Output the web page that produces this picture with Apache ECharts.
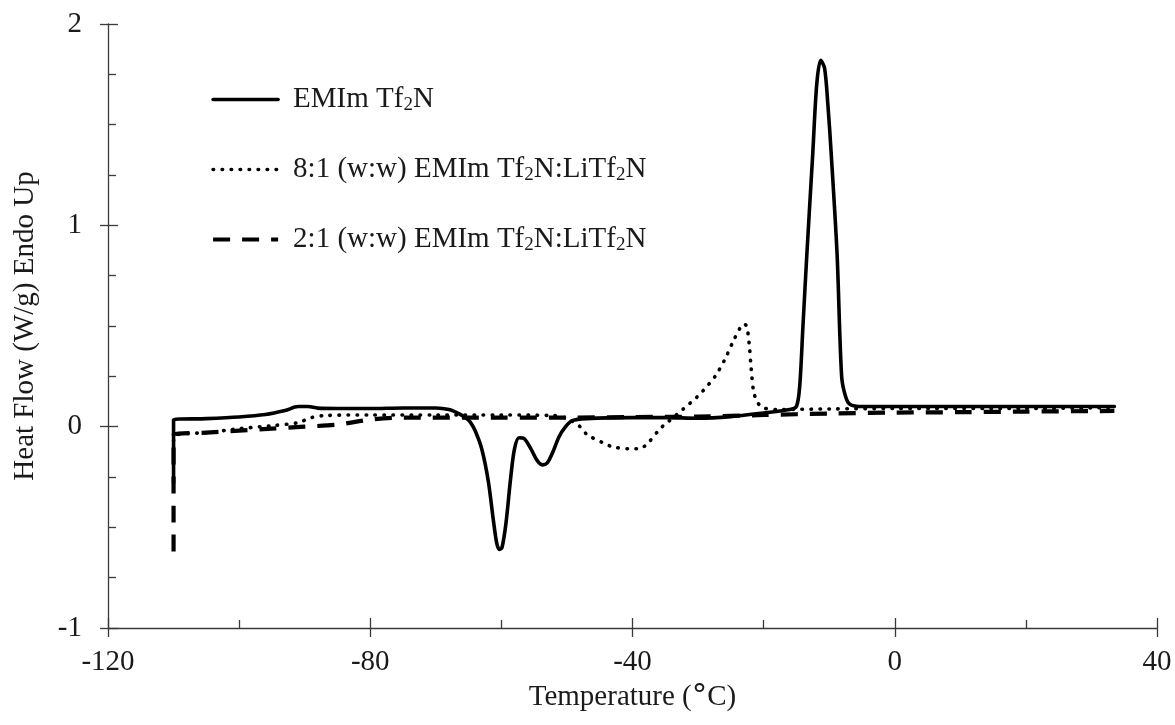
<!DOCTYPE html>
<html>
<head>
<meta charset="utf-8">
<script src="https://cdn.jsdelivr.net/npm/echarts@6/dist/echarts.min.js"></script>
<style>html,body{margin:0;padding:0;background:#fff}#c{width:1175px;height:725px}</style>
</head>
<body>
<div id="c"></div>
<script>
// ---- data ----
const seriesNames = ['EMIm Tf2N', '8:1 (w:w) EMIm Tf2N:LiTf2N', '2:1 (w:w) EMIm Tf2N:LiTf2N'];

const pureT = [-110,-110,-105,-100,-96,-93,-91,-89.5,-88,-85,-80,-75,-70,-68,-66.5,-65.5,-64.8,-64,-63,-62,-61.2,-60.7,-60.3,-59.9,-59.3,-58.6,-58,-57.3,-56.5,-55.5,-54.5,-53.7,-53,-52.2,-51.2,-50.2,-49.2,-47,-40,-35,-30,-25,-20,-16,-15,-14.5,-14,-13.4,-12.5,-11.9,-11.3,-10.7,-10.2,-9.7,-8.8,-8.1,-7.5,-6.8,-5,0,10,20,33.5];
const pureY = [-0.28,0.035,0.04,0.048,0.06,0.08,0.1,0.1,0.092,0.09,0.09,0.093,0.093,0.085,0.065,0.045,0.025,-0.02,-0.11,-0.27,-0.47,-0.58,-0.61,-0.6,-0.48,-0.26,-0.11,-0.055,-0.06,-0.11,-0.17,-0.19,-0.18,-0.13,-0.05,0.0,0.03,0.04,0.045,0.045,0.042,0.05,0.068,0.085,0.1,0.2,0.5,0.86,1.36,1.7,1.82,1.78,1.6,1.36,0.86,0.25,0.15,0.11,0.1,0.1,0.1,0.1,0.1];

const mix81T = [-110,-109.5,-105,-100,-95,-91,-89,-87,-80,-70,-60,-52,-50,-48,-46.9,-44.5,-43,-40.5,-39,-37.6,-35.8,-34.7,-32.3,-30.2,-29.2,-27.4,-25.9,-24.7,-23.6,-23.1,-22.6,-22.2,-21.9,-21.5,-20.9,-20.2,-18,-10,0,20,33.5];
const mix81Y = [-0.07,-0.04,-0.03,-0.01,0.005,0.02,0.045,0.055,0.058,0.058,0.058,0.055,0.04,0.0,-0.04,-0.08,-0.1,-0.11,-0.11,-0.08,-0.01,0.02,0.087,0.146,0.18,0.25,0.335,0.42,0.49,0.51,0.5,0.41,0.29,0.17,0.12,0.095,0.085,0.088,0.09,0.09,0.095];

const mix21T = [-110,-110,-105,-100,-95,-90,-85,-80,-75,-60,-50,-40,-30,-20,-10,0,10,20,33.5];
const mix21Y = [-0.62,-0.04,-0.03,-0.02,-0.01,0.0,0.01,0.035,0.045,0.045,0.045,0.048,0.05,0.058,0.065,0.07,0.072,0.075,0.078];

const xTicks = {min: -120, max: 40, interval: 40};
const yTicks = {min: -1, max: 2, interval: 1};

// ---- chart ----
const FONT = '"Liberation Serif", "Times New Roman", serif';
const FS = 29;
const zip = (a, b) => a.map((v, i) => [v, b[i]]);
const richName = {
  'EMIm Tf2N': '{a|EMIm Tf}{s|2}{a|N}',
  '8:1 (w:w) EMIm Tf2N:LiTf2N': '{a|8:1 (w:w) EMIm Tf}{s|2}{a|N:LiTf}{s|2}{a|N}',
  '2:1 (w:w) EMIm Tf2N:LiTf2N': '{a|2:1 (w:w) EMIm Tf}{s|2}{a|N:LiTf}{s|2}{a|N}'
};
const axisColor = '#3a3a3a';
const textColor = '#1a1a1a';
const styles = [
  {color: '#000', width: 3.6, type: 'solid', join: 'round', cap: 'round'},
  {color: '#000', width: 3.6, type: [0.5, 8.5], cap: 'round'},
  {color: '#000', width: 4.2, type: [17, 12], cap: 'butt'}
];

const chart = echarts.init(document.getElementById('c'), null, {renderer: 'canvas'});
chart.setOption({
  animation: false,
  backgroundColor: '#fff',
  grid: {left: 108, right: 18, top: 24, bottom: 97, containLabel: false},
  legend: {
    orient: 'vertical',
    left: 206, top: 80,
    itemWidth: 65, itemHeight: 30, itemGap: 40,
    itemStyle: {opacity: 0},
    data: seriesNames.map((n, i) => ({name: n, lineStyle: styles[i], itemStyle: {opacity: 0}})),
    formatter: n => richName[n],
    textStyle: {
      fontFamily: FONT, color: textColor, padding: [0, 0, 0, 10],
      rich: {
        a: {fontFamily: FONT, fontSize: FS, color: textColor},
        s: {fontFamily: FONT, fontSize: 19, color: textColor, padding: [12, 0, 0, 0]}
      }
    }
  },
  xAxis: [
    {
      type: 'value', min: xTicks.min, max: xTicks.max, interval: xTicks.interval, position: 'bottom',
      axisLine: {show: true, onZero: false, lineStyle: {color: axisColor, width: 1.3}},
      axisTick: {show: true, length: 9, lineStyle: {color: axisColor, width: 1.3}},
      axisLabel: {fontFamily: FONT, fontSize: FS, color: textColor, margin: 20},
      splitLine: {show: false},
      name: 'Temperature ({d|°}C)', nameLocation: 'middle', nameGap: 47,
      nameTextStyle: {fontFamily: FONT, fontSize: FS, color: textColor,
        rich: {d: {fontFamily: '"DejaVu Sans"', fontSize: 31, color: textColor}}}
    },
    {
      type: 'value', min: xTicks.min, max: xTicks.max, interval: xTicks.interval, position: 'bottom',
      axisLine: {show: false, onZero: false},
      axisTick: {show: true, inside: true, length: 10, lineStyle: {color: axisColor, width: 1.3}},
      minorTick: {show: true, splitNumber: 2, length: 8, lineStyle: {color: axisColor, width: 1.3}},
      axisLabel: {show: false}, splitLine: {show: false}
    }
  ],
  yAxis: [
    {
      type: 'value', min: yTicks.min, max: yTicks.max, interval: yTicks.interval, position: 'left',
      axisLine: {show: true, onZero: false, lineStyle: {color: axisColor, width: 1.3}},
      axisTick: {show: true, length: 8, lineStyle: {color: axisColor, width: 1.3}},
      axisLabel: {fontFamily: FONT, fontSize: FS, color: textColor, margin: 26},
      splitLine: {show: false},
      name: 'Heat Flow (W/g) Endo Up', nameLocation: 'middle', nameGap: 68, nameRotate: 90,
      nameTextStyle: {fontFamily: FONT, fontSize: FS, color: textColor}
    },
    {
      type: 'value', min: yTicks.min, max: yTicks.max, interval: yTicks.interval, position: 'left',
      axisLine: {show: false, onZero: false},
      axisTick: {show: true, inside: true, length: 10, lineStyle: {color: axisColor, width: 1.3}},
      minorTick: {show: true, splitNumber: 4, length: 8, lineStyle: {color: axisColor, width: 1.3}},
      axisLabel: {show: false}, splitLine: {show: false}
    }
  ],
  series: [
    {
      name: seriesNames[0], type: 'line', xAxisIndex: 0, yAxisIndex: 0,
      data: zip(pureT, pureY), showSymbol: false, symbol: 'none', smooth: 0.3, z: 5,
      lineStyle: styles[0], itemStyle: {color: '#000'}
    },
    {
      name: seriesNames[1], type: 'line', xAxisIndex: 0, yAxisIndex: 0,
      data: zip(mix81T, mix81Y), showSymbol: false, symbol: 'none', smooth: 0.3, z: 4,
      lineStyle: styles[1], itemStyle: {color: '#000'}
    },
    {
      name: seriesNames[2], type: 'line', xAxisIndex: 0, yAxisIndex: 0,
      data: zip(mix21T, mix21Y), showSymbol: false, symbol: 'none', smooth: 0.3, z: 3,
      lineStyle: styles[2], itemStyle: {color: '#000'}
    }
  ]
});
</script>
</body>
</html>
